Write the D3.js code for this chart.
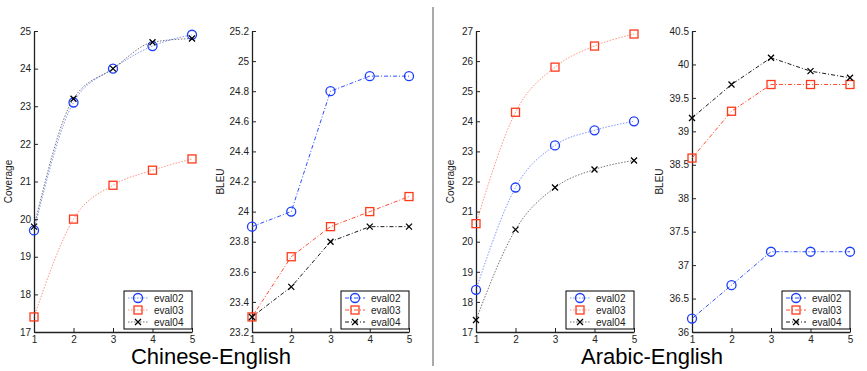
<!DOCTYPE html>
<html>
<head>
<meta charset="utf-8">
<script src="https://cdn.jsdelivr.net/npm/d3@7"></script>
<style>
  body { margin: 0; background: #fff; }
  svg { font-family: "Liberation Sans", Arial, sans-serif; }
  .tick text { font-size: 10px; fill: #222; }
  .axis path, .axis line { stroke: #222; }
</style>
</head>
<body>
<div id="chart"></div>
<script>
const steps = [1, 2, 3, 4, 5]
const seriesNames = ['eval02', 'eval03', 'eval04']

// Chinese-English
const zhCoverage02 = [19.7, 23.1, 24.0, 24.6, 24.9]
const zhCoverage03 = [17.4, 20.0, 20.9, 21.3, 21.6]
const zhCoverage04 = [19.8, 23.2, 24.0, 24.7, 24.8]
const zhBleu02 = [23.9, 24.0, 24.8, 24.9, 24.9]
const zhBleu03 = [23.3, 23.7, 23.9, 24.0, 24.1]
const zhBleu04 = [23.3, 23.5, 23.8, 23.9, 23.9]

// Arabic-English
const arCoverage02 = [18.4, 21.8, 23.2, 23.7, 24.0]
const arCoverage03 = [20.6, 24.3, 25.8, 26.5, 26.9]
const arCoverage04 = [17.4, 20.4, 21.8, 22.4, 22.7]
const arBleu02 = [36.2, 36.7, 37.2, 37.2, 37.2]
const arBleu03 = [38.6, 39.3, 39.7, 39.7, 39.7]
const arBleu04 = [39.2, 39.7, 40.1, 39.9, 39.8]

const zhCoverageTicks = [17, 18, 19, 20, 21, 22, 23, 24, 25]
const zhBleuTicks = [23.2, 23.4, 23.6, 23.8, 24, 24.2, 24.4, 24.6, 24.8, 25, 25.2]
const arCoverageTicks = [17, 18, 19, 20, 21, 22, 23, 24, 25, 26, 27]
const arBleuTicks = [36, 36.5, 37, 37.5, 38, 38.5, 39, 39.5, 40, 40.5]

const titles = ['Chinese-English', 'Arabic-English']

const COLORS = ['#1a3cff', '#ff3a1a', '#000']
const TOP = 31
const BOTTOM = 332

const panels = [
    { left: 34, right: 192, label: 'Coverage', ticks: zhCoverageTicks, values: [zhCoverage02, zhCoverage03, zhCoverage04], kind: 'coverage', labelX: 12 },
    { left: 252, right: 409, label: 'BLEU', ticks: zhBleuTicks, values: [zhBleu02, zhBleu03, zhBleu04], kind: 'bleu', labelX: 224 },
    { left: 476, right: 634, label: 'Coverage', ticks: arCoverageTicks, values: [arCoverage02, arCoverage03, arCoverage04], kind: 'coverage', labelX: 454 },
    { left: 692, right: 850, label: 'BLEU', ticks: arBleuTicks, values: [arBleu02, arBleu03, arBleu04], kind: 'bleu', labelX: 663 }
]

const svg = d3.select('#chart')
    .append('svg')
    .attr('width', 867)
    .attr('height', 371)

// separator between language pairs
svg.append('line')
    .attr('x1', 433).attr('x2', 433)
    .attr('y1', 7).attr('y2', 366)
    .attr('stroke', '#555')
    .attr('stroke-width', 1)

function drawMarker(g, idx, x, y) {
    if (idx === 0) {
        g.append('circle')
            .attr('cx', x).attr('cy', y).attr('r', 4.5)
            .attr('fill', 'none').attr('stroke', COLORS[0]).attr('stroke-width', 1.3)
    } else if (idx === 1) {
        g.append('rect')
            .attr('x', x - 4).attr('y', y - 4).attr('width', 8).attr('height', 8)
            .attr('fill', 'none').attr('stroke', COLORS[1]).attr('stroke-width', 1.3)
    } else {
        g.append('path')
            .attr('d', `M${x - 3},${y - 3}L${x + 3},${y + 3}M${x - 3},${y + 3}L${x + 3},${y - 3}`)
            .attr('stroke', COLORS[2]).attr('stroke-width', 1.3)
    }
}

panels.forEach(p => {
    const x = d3.scaleLinear().domain([1, 5]).range([p.left, p.right])
    const y = d3.scaleLinear().domain(d3.extent(p.ticks)).range([BOTTOM, TOP])
    const g = svg.append('g')

    g.append('g')
        .attr('class', 'axis')
        .attr('transform', `translate(${p.left},0)`)
        .call(d3.axisLeft(y).tickValues(p.ticks).tickSize(-4).tickSizeOuter(0).tickPadding(3)
            .tickFormat(d => String(+d.toFixed(1))))

    g.append('g')
        .attr('class', 'axis')
        .attr('transform', `translate(0,${BOTTOM})`)
        .call(d3.axisBottom(x).tickValues(steps).tickSize(-4).tickSizeOuter(0).tickPadding(4)
            .tickFormat(d3.format('d')))

    g.selectAll('.axis .domain').attr('stroke-width', 1.3)

    g.append('text')
        .attr('transform', `translate(${p.labelX},${(TOP + BOTTOM) / 2}) rotate(-90)`)
        .attr('text-anchor', 'middle')
        .attr('font-size', 10)
        .attr('fill', '#222')
        .text(p.label)

    const line = d3.line()
        .x((d, i) => x(steps[i]))
        .y(d => y(d))
        .curve(p.kind === 'coverage' ? d3.curveMonotoneX : d3.curveLinear)

    p.values.forEach((vals, si) => {
        g.append('path')
            .attr('d', line(vals))
            .attr('fill', 'none')
            .attr('stroke', COLORS[si])
            .attr('stroke-opacity', p.kind === 'coverage' ? 0.55 : 0.9)
            .attr('stroke-width', 1)
            .attr('stroke-dasharray', p.kind === 'coverage' ? '1.5,1.5' : '4,2,1,2')
        vals.forEach((v, i) => drawMarker(g, si, x(steps[i]), y(v)))
    })

    // legend
    const lx = p.right - 68
    const ly = 291
    g.append('rect')
        .attr('x', lx).attr('y', ly).attr('width', 68).attr('height', 38)
        .attr('fill', '#fff').attr('stroke', '#000').attr('stroke-width', 1)
    seriesNames.forEach((name, si) => {
        const ry = ly + 7 + si * 12
        g.append('line')
            .attr('x1', lx + 4).attr('x2', lx + 24)
            .attr('y1', ry).attr('y2', ry)
            .attr('stroke', COLORS[si])
            .attr('stroke-opacity', p.kind === 'coverage' ? 0.55 : 0.9)
            .attr('stroke-dasharray', p.kind === 'coverage' ? '1.5,1.5' : '4,2,1,2')
        drawMarker(g, si, lx + 14, ry)
        g.append('text')
            .attr('x', lx + 30).attr('y', ry + 3.5)
            .attr('font-size', 10)
            .attr('fill', '#222')
            .text(name)
    })
})

titles.forEach((t, i) => {
    svg.append('text')
        .attr('x', i === 0 ? 211 : 652)
        .attr('y', 364)
        .attr('text-anchor', 'middle')
        .attr('font-size', 22)
        .attr('fill', '#000')
        .text(t)
})
</script>
</body>
</html>
